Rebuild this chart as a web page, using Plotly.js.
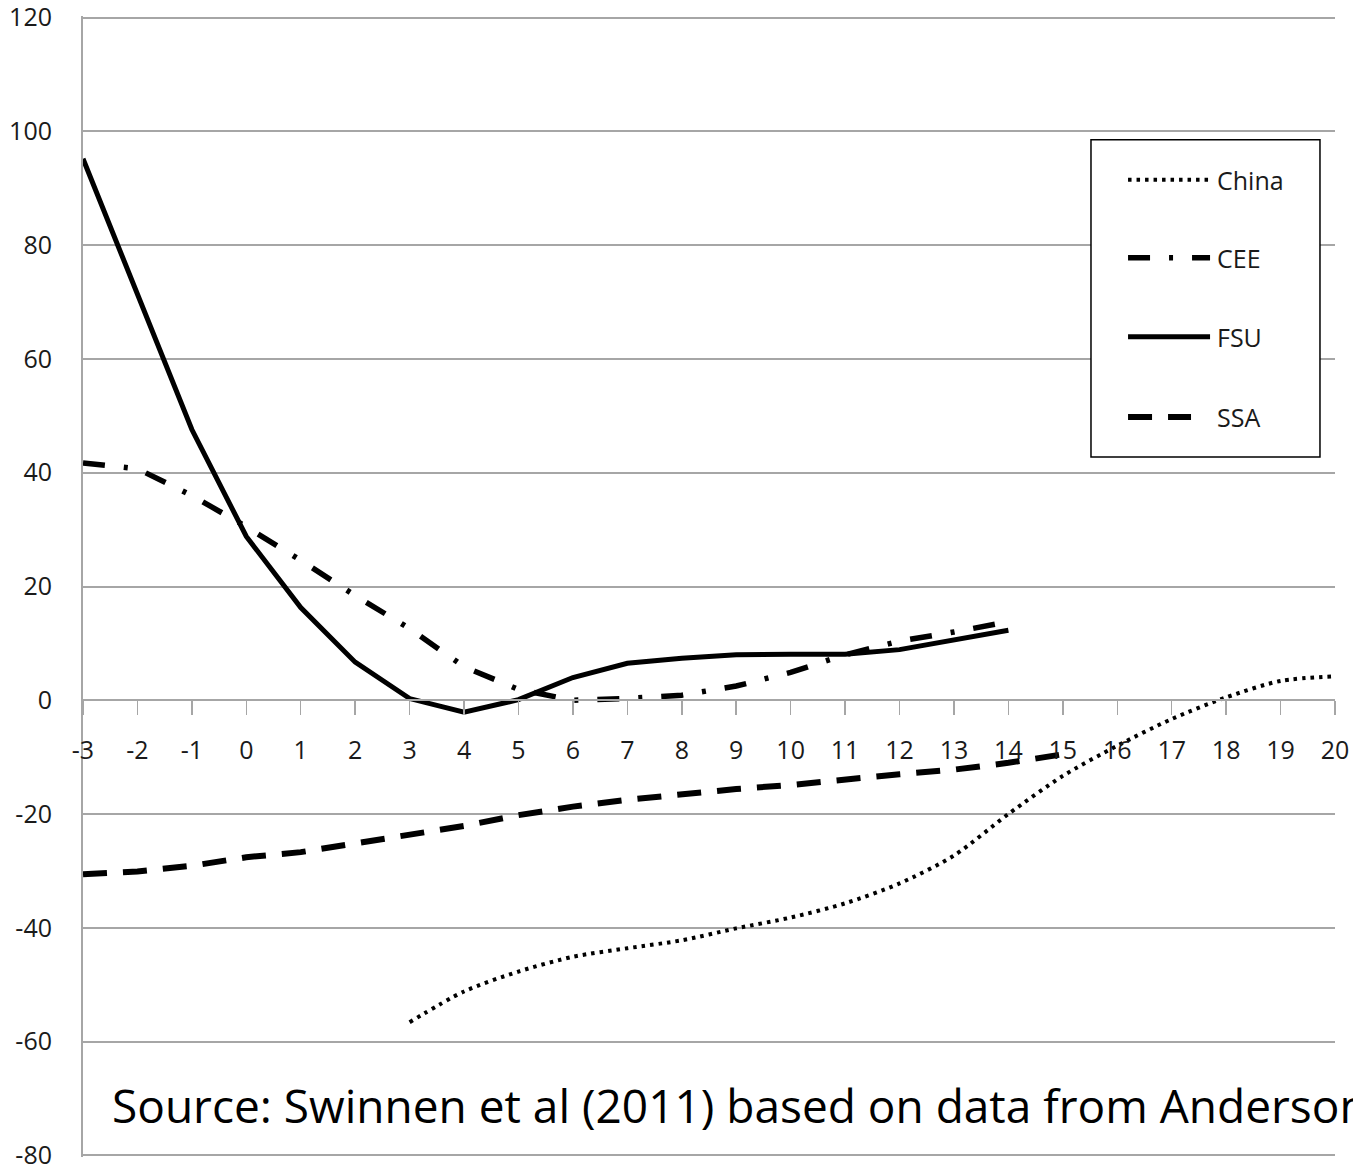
<!DOCTYPE html>
<html>
<head>
<meta charset="utf-8">
<script src="https://cdn.plot.ly/plotly-3.0.1.min.js"></script>
<style>
  html, body { margin: 0; padding: 0; background: #ffffff; overflow: hidden; }
  #chart { width: 1353px; height: 1172px; }
</style>
</head>
<body>
<div id="chart"></div>
<script>
// ---- data ----
var fsuYears   = [-3,-2,-1,0,1,2,3,4,5,6,7,8,9,10,11,12,13,14];
var fsuValues  = [95.2,71.5,47.6,28.8,16.3,6.7,0.3,-2.1,0.1,4.0,6.5,7.4,8.0,8.1,8.1,8.9,10.6,12.3];

var ceeYears   = [-3,-2,-1,0,1,2,3,4,5,6,7,8,9,10,11,12,13,14];
var ceeValues  = [41.7,40.7,36.0,30.5,24.6,18.4,12.6,5.9,1.9,0.0,0.3,0.9,2.5,4.9,8.0,10.4,12.0,13.8];

var ssaYears   = [-3,-2,-1,0,1,2,3,4,5,6,7,8,9,10,11,12,13,14,15];
var ssaValues  = [-30.6,-30.1,-29.1,-27.6,-26.7,-25.2,-23.5,-22.1,-20.2,-18.7,-17.5,-16.5,-15.6,-14.9,-13.9,-13.0,-12.2,-11.0,-9.5];

var chinaYears  = [3,4,5,6,7,8,9,10,11,12,13,14,15,16,17,18,19,20];
var chinaValues = [-56.6,-51.2,-47.7,-45.1,-43.6,-42.2,-40.1,-38.2,-35.7,-32.2,-27.3,-20.0,-13.3,-8.0,-3.3,0.5,3.4,4.2];

var xTickVals  = [-3,-2,-1,0,1,2,3,4,5,6,7,8,9,10,11,12,13,14,15,16,17,18,19,20];
var xTickText  = ["-3","-2","-1","0","1","2","3","4","5","6","7","8","9","10","11","12","13","14","15","16","17","18","19","20"];
var yTickVals  = [-80,-60,-40,-20,0,20,40,60,80,100,120];
var yTickText  = ["-80","-60","-40","-20","0","20","40","60","80","100","120"];

var seriesNames = ["China","CEE","FSU","SSA"];
var sourceText  = "Source: Swinnen et al (2011) based on data from Anderson";

// ---- styles ----
var FONT = "Open Sans, Noto Sans, sans-serif";
var TXT = "#1a1a1a";
var GRID = "#a6a6a6";
var styles = {
  China: {width: 4,   dash: "3.5px,5px", shape: "spline"},
  CEE:   {width: 5.5, dash: "22px,19px,4px,19px", shape: "linear"},
  FSU:   {width: 5,   dash: "solid", shape: "linear"},
  SSA:   {width: 6,   dash: "24px,16px", shape: "linear"}
};

function mk(name, xs, ys) {
  var s = styles[name];
  return {
    type: "scatter", mode: "lines", name: name,
    x: xs, y: ys, cliponaxis: false,
    line: {color: "#000000", width: s.width, dash: s.dash, shape: s.shape, smoothing: 0.8},
    showlegend: false, hoverinfo: "x+y+name"
  };
}

var data = [
  mk("SSA", ssaYears, ssaValues),
  mk("China", chinaYears, chinaValues),
  mk("CEE", ceeYears, ceeValues),
  mk("FSU", fsuYears, fsuValues)
];

// plot area geometry (y range padded slightly so edge gridlines are kept)
var Y0 = -80.3, Y1 = 120.3;
function py(v) { return (v - Y0) / (Y1 - Y0); }   // value -> paper fraction
var legendRowsPx = [180, 258, 337, 417];
var plotTop = 16.3, plotH = 1140.4;
function pyPx(p) { return 1 - (p - plotTop) / plotH; } // pixel row -> paper fraction

// ---- custom legend box (decoration, paper coordinates) ----
var shapes = [{
  type: "rect", xref: "paper", yref: "paper",
  x0: 0.8051, x1: 0.9880, y0: pyPx(457), y1: pyPx(140),
  line: {color: "#000000", width: 1.5}, fillcolor: "#ffffff", layer: "above"
}];
var annotations = [];
seriesNames.forEach(function (n, i) {
  var s = styles[n];
  var yy = pyPx(legendRowsPx[i]);
  shapes.push({
    type: "line", xref: "paper", yref: "paper", layer: "above",
    x0: 0.8347, x1: (n === "SSA" ? 0.8850 : 0.9002), y0: yy, y1: yy,
    line: {color: "#000000", width: s.width, dash: s.dash}
  });
  annotations.push({
    xref: "paper", yref: "paper", x: 0.9042, y: yy,
    xanchor: "left", yanchor: "middle", showarrow: false,
    text: n, font: {family: FONT, size: 25, color: TXT}
  });
});
annotations.push({
  xref: "paper", yref: "paper", x: 0.0216, y: pyPx(1105),
  xanchor: "left", yanchor: "middle", showarrow: false,
  text: sourceText, font: {family: FONT, size: 46, color: "#000000"}
});

var layout = {
  width: 1353, height: 1172,
  margin: {l: 83, r: 18, t: 16.3, b: 15.3, pad: 0},
  paper_bgcolor: "#ffffff", plot_bgcolor: "#ffffff",
  showlegend: false,
  font: {family: FONT, size: 25, color: TXT},
  xaxis: {
    range: [-3, 20], tickmode: "array", tickvals: xTickVals, ticktext: xTickText,
    anchor: "free", position: py(0),
    showgrid: false, zeroline: false,
    showline: true, linecolor: GRID, linewidth: 2,
    ticks: "outside", ticklen: 14, tickwidth: 1.5, tickcolor: GRID,
    ticklabelstandoff: 14,
    tickfont: {family: FONT, size: 25, color: TXT}
  },
  yaxis: {
    range: [Y0, Y1], tickmode: "array", tickvals: yTickVals, ticktext: yTickText,
    showgrid: true, gridcolor: GRID, gridwidth: 2,
    zeroline: false, showline: true, linecolor: GRID, linewidth: 2,
    ticks: "", ticklabelstandoff: 24, ticklabeloverflow: "allow",
    tickfont: {family: FONT, size: 25, color: TXT}
  },
  shapes: shapes,
  annotations: annotations
};

Plotly.newPlot("chart", data, layout, {displayModeBar: false, staticPlot: true});
</script>
</body>
</html>
